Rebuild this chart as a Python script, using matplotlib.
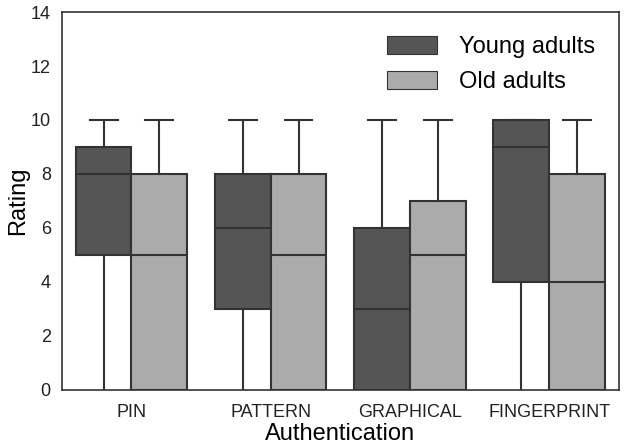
import matplotlib
matplotlib.use('agg')
import matplotlib.pyplot as plt
from matplotlib.patches import Patch

plt.rcParams['font.family'] = ['Liberation Sans', 'DejaVu Sans']

categories = ['PIN', 'PATTERN', 'GRAPHICAL', 'FINGERPRINT']
groups = ['Young adults', 'Old adults']
colors = ['#555555', '#ababab']

# (whislo, q1, med, q3, whishi) per category
young = [(0, 5, 8, 9, 10), (0, 3, 6, 8, 10), (0, 0, 3, 6, 10), (0, 4, 9, 10, 10)]
old = [(0, 0, 5, 8, 10), (0, 0, 5, 8, 10), (0, 0, 5, 7, 10), (0, 0, 4, 8, 10)]

fig = plt.figure(figsize=(6.25, 4.46), dpi=100)
ax = fig.add_axes([0.099, 0.126, 0.891, 0.847])

edge = '#333333'
for gi, (data, col) in enumerate(zip([young, old], colors)):
    stats = []
    for vals in data:
        lo, q1, med, q3, hi = vals
        stats.append(dict(whislo=lo, q1=q1, med=med, q3=q3, whishi=hi, fliers=[]))
    pos = [i - 0.2 + 0.4 * gi for i in range(len(categories))]
    art = ax.bxp(stats, positions=pos, widths=0.4, patch_artist=True, showfliers=False,
                 boxprops=dict(facecolor=col, edgecolor=edge, linewidth=1.5),
                 medianprops=dict(color=edge, linewidth=1.5),
                 whiskerprops=dict(color=edge, linewidth=1.5),
                 capprops=dict(color=edge, linewidth=1.5),
                 capwidths=0.2, manage_ticks=False)
    # the lower caps sit on the axis line, hide them
    for cap in art['caps'][0::2]:
        cap.set_visible(False)

ax.set_xlim(-0.5, 3.5)
ax.set_ylim(0, 14)
ax.set_xticks(range(len(categories)))
ax.set_xticklabels(categories)
ax.set_yticks(range(0, 15, 2))
ax.tick_params(length=0, labelsize=13, colors='#222222')
ax.tick_params(axis='x', pad=10)
ax.tick_params(axis='y', pad=8)
for s in ax.spines.values():
    s.set_color('#333333')
    s.set_linewidth(1.2)
ax.set_xlabel('Authentication', fontsize=17, labelpad=2)
ax.set_ylabel('Rating', fontsize=17, labelpad=1)

handles = [Patch(facecolor=c, edgecolor=edge, linewidth=0.8) for c in colors]
ax.legend(handles, groups, loc='upper right', frameon=False, fontsize=17,
          handlelength=2.1, handleheight=0.8, handletextpad=0.95,
          borderaxespad=0.6, labelspacing=0.55)

fig.savefig('out.png')
